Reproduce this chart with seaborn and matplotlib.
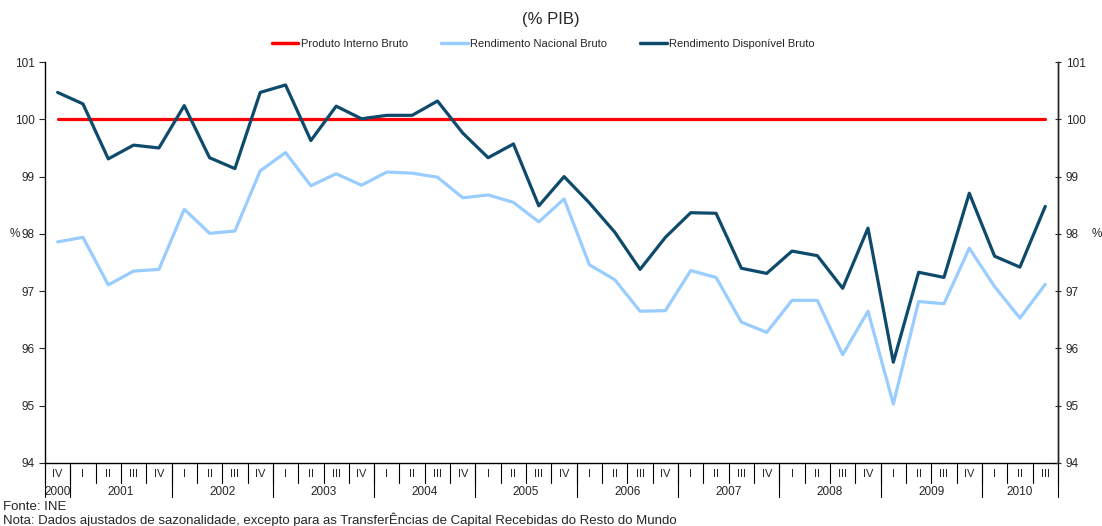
import matplotlib
matplotlib.use("Agg")
import matplotlib.pyplot as plt
import matplotlib.transforms as mtransforms
import pandas as pd
import seaborn as sns

# quarters from 2000 IV to 2010 III
years = ["2000"] + [str(y) for y in range(2001, 2010) for _ in range(4)] + ["2010"] * 3
quarters = ["IV"] + ["I", "II", "III", "IV"] * 9 + ["I", "II", "III"]

pib = [100.0] * 40
rnb = [97.86, 97.94, 97.11, 97.35, 97.38, 98.43, 98.01, 98.05, 99.10, 99.42,
       98.84, 99.05, 98.85, 99.08, 99.06, 98.99, 98.63, 98.68, 98.55, 98.21,
       98.61, 97.46, 97.20, 96.65, 96.66, 97.36, 97.24, 96.46, 96.28, 96.84,
       96.84, 95.89, 96.65, 95.03, 96.82, 96.78, 97.75, 97.08, 96.53, 97.12]
rdb = [100.47, 100.27, 99.31, 99.55, 99.50, 100.24, 99.33, 99.14, 100.47, 100.60,
       99.63, 100.23, 100.01, 100.07, 100.07, 100.32, 99.76, 99.33, 99.57, 98.49,
       99.00, 98.54, 98.03, 97.38, 97.94, 98.37, 98.36, 97.40, 97.31, 97.70,
       97.62, 97.05, 98.10, 95.76, 97.33, 97.24, 98.71, 97.61, 97.42, 98.48]

series_names = ["Produto Interno Bruto", "Rendimento Nacional Bruto", "Rendimento Disponível Bruto"]
colors = ["#FF0000", "#99CCFF", "#0D4A6B"]

df = pd.DataFrame({
    "pos": list(range(len(quarters))) * 3,
    "valor": pib + rnb + rdb,
    "serie": [s for s in series_names for _ in quarters],
})

sns.set_style("white")
plt.rcParams["font.family"] = ["Liberation Sans", "DejaVu Sans"]

fig = plt.figure(figsize=(11.02, 5.26), dpi=100)
ax = fig.add_axes([0.0408, 0.1198, 0.9192, 0.7622])

sns.lineplot(data=df, x="pos", y="valor", hue="serie", hue_order=series_names,
             palette=colors, linewidth=2.3, ax=ax, legend=False)

n = len(quarters)
ax.set_xlim(-0.5, n - 0.5)
ax.set_ylim(94, 101)
ax.set_yticks(range(94, 102))
ax.set_xticks([])
ax.set_xlabel("")
ax.set_ylabel("")
ax.tick_params(axis="y", labelsize=8.5, length=4, width=0.8, direction="out", left=True)
for side in ["left", "bottom", "right"]:
    ax.spines[side].set_color("black")
    ax.spines[side].set_linewidth(1.0)
ax.spines["top"].set_visible(False)

ax2 = ax.twinx()
ax2.set_ylim(94, 101)
ax2.set_yticks(range(94, 102))
ax2.tick_params(axis="y", labelsize=8.5, length=4, width=0.8, direction="inout", right=True)
for side in ["top", "left", "bottom"]:
    ax2.spines[side].set_visible(False)
ax2.spines["right"].set_linewidth(1.0)

# "%" axis labels
fig.text(10 / 1102, 1 - 234 / 526, "%", fontsize=8.5, va="center", ha="left")
fig.text(1092 / 1102, 1 - 234 / 526, "%", fontsize=8.5, va="center", ha="left")

# two-level category axis
trans = mtransforms.blended_transform_factory(ax.transData, ax.transAxes)
q_row, y_row, sep_q, sep_y = -0.028, -0.073, -0.05, -0.085
for i, q in enumerate(quarters):
    ax.text(i, q_row, q, transform=trans, ha="center", va="center", fontsize=8, clip_on=False)
    ax.plot([i - 0.5, i - 0.5], [0, sep_q], transform=trans, color="black", lw=0.8, clip_on=False)
ax.plot([n - 0.5, n - 0.5], [0, sep_q], transform=trans, color="black", lw=0.8, clip_on=False)

bounds = [0]
for i in range(1, n):
    if years[i] != years[i - 1]:
        bounds.append(i)
bounds.append(n)
for a, b in zip(bounds[:-1], bounds[1:]):
    ax.text((a + b - 1) / 2, y_row, years[a], transform=trans, ha="center", va="center",
            fontsize=8.5, clip_on=False)
for b in bounds:
    ax.plot([b - 0.5, b - 0.5], [0, sep_y], transform=trans, color="black", lw=0.8,
            clip_on=False)

# title and legend
fig.text(0.5, 0.963, "(% PIB)", ha="center", va="center", fontsize=12)
handles = [plt.Line2D([], [], color=c, lw=2.5) for c in colors]
fig.legend(handles, series_names, loc="center", bbox_to_anchor=(0.493, 0.916), ncol=3,
           frameon=False, fontsize=8, handlelength=2.4, handletextpad=0.2, columnspacing=3.0)

fig.text(0.003, 0.036, "Fonte: INE", fontsize=9.5, va="center")
fig.text(0.003, 0.012, "Nota: Dados ajustados de sazonalidade, excepto para as TransferÊncias de Capital Recebidas do Resto do Mundo",
         fontsize=9.5, va="center")

fig.savefig("out.png", dpi=100)
